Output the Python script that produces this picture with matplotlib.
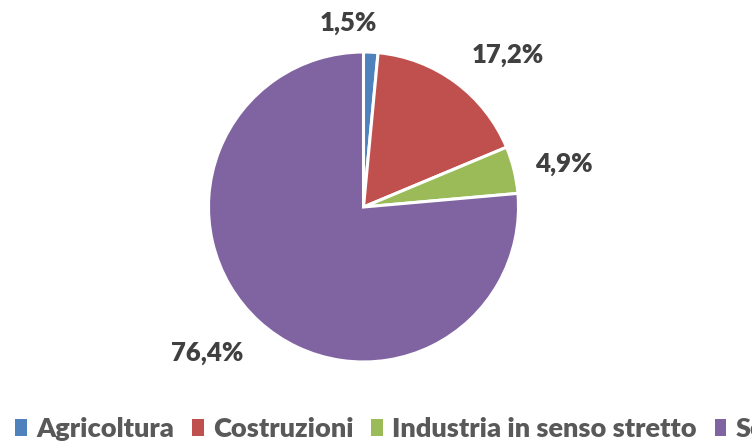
import matplotlib
matplotlib.use("Agg")
import matplotlib.pyplot as plt
from matplotlib.patches import Patch

categories = ["Agricoltura", "Costruzioni", "Industria in senso stretto", "Servizi"]
values = [1.5, 17.2, 4.9, 76.4]
value_labels = ["1,5%", "17,2%", "4,9%", "76,4%"]
colors = ["#4F81BD", "#C0504D", "#9BBB59", "#8064A2"]
# label positions (axes data units, pie radius = 1)
label_pos = [(-0.10, 1.19), (0.93, 0.98), (1.29, 0.28), (-1.01, -0.94)]

plt.rcParams['font.family'] = ['Lato', 'DejaVu Sans']

W, H = 752, 443
fig = plt.figure(figsize=(W / 100, H / 100), dpi=100)
cx, cy, R = 363.5, 207, 155
ax = fig.add_axes([(cx - R) / W, (H - cy - R) / H, 2 * R / W, 2 * R / H])
ax.pie(values, colors=colors, startangle=90, counterclock=False,
       wedgeprops=dict(edgecolor="white", linewidth=2.2))
ax.set_xlim(-1, 1)
ax.set_ylim(-1, 1)
ax.set_aspect("equal")

for (x, y), t in zip(label_pos, value_labels):
    ax.text(x, y, t, ha="center", va="center", fontsize=18.5, fontweight="heavy",
            color="#404040", clip_on=False)

handles = [Patch(facecolor=c, edgecolor="none") for c in colors]
fig.legend(handles, categories, loc="center left", bbox_to_anchor=(-9 / W, 1 - 429 / H),
           ncol=4, frameon=False, handlelength=0.43, handleheight=0.6,
           handletextpad=0.35, columnspacing=0.65, labelcolor="#595959",
           prop=dict(family="Lato", weight="heavy", size=19.5))

fig.savefig("out.png", dpi=100)
